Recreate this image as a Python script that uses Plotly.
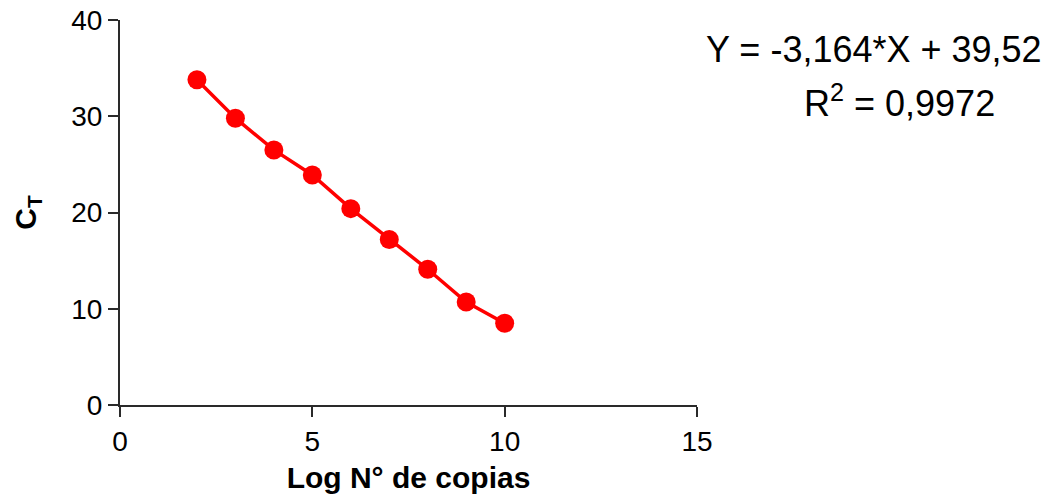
import plotly.graph_objects as go

log_copies = [2, 3, 4, 5, 6, 7, 8, 9, 10]
ct_values = [33.8, 29.8, 26.5, 23.9, 20.4, 17.2, 14.1, 10.7, 8.5]
x_ticks = [0, 5, 10, 15]
y_ticks = [0, 10, 20, 30, 40]
equation = "Y = -3,164*X + 39,52"
r_squared = "R<sup>2</sup> = 0,9972"

FONT = "Liberation Sans, Arial, sans-serif"
RED = "#ff0000"
AX = "#2a2a2a"

fig = go.Figure()
fig.add_trace(go.Scatter(
    x=log_copies, y=ct_values, mode="lines+markers",
    line=dict(color=RED, width=3.5),
    marker=dict(color=RED, size=19),
    cliponaxis=False, showlegend=False,
))

fig.update_layout(
    width=1051, height=495,
    margin=dict(l=120, r=354, t=20, b=90),
    paper_bgcolor="white", plot_bgcolor="white",
    font=dict(family=FONT, color="black"),
)
fig.update_xaxes(
    range=[0, 15], tickvals=x_ticks, ticktext=[str(v) for v in x_ticks],
    showgrid=False, zeroline=False, showline=True, linecolor=AX, linewidth=2,
    ticks="outside", ticklen=10, tickwidth=2, tickcolor=AX,
    tickfont=dict(size=28, family=FONT, color="black"),
    title=dict(text="<b>Log N° de copias</b>", font=dict(size=30, family=FONT), standoff=11),
    automargin=False,
)
fig.update_yaxes(
    range=[0, 40], tickvals=y_ticks, ticktext=[str(v) for v in y_ticks],
    showgrid=False, zeroline=False, showline=True, linecolor=AX, linewidth=2,
    ticks="outside", ticklen=10, tickwidth=2, tickcolor=AX,
    tickfont=dict(size=28, family=FONT, color="black"),
    title=dict(text="<b>C<sub>T</sub></b>", font=dict(size=30, family=FONT), standoff=26),
    automargin=False,
)

fig.add_annotation(
    xref="paper", yref="paper", x=1.307, y=0.923, xanchor="center", yanchor="middle",
    text=equation, showarrow=False, font=dict(size=36, family=FONT, color="black"),
)
fig.add_annotation(
    xref="paper", yref="paper", x=1.182, y=0.79, xanchor="left", yanchor="middle",
    text=r_squared, showarrow=False, font=dict(size=36, family=FONT, color="black"),
)

fig.write_html("out.html")
